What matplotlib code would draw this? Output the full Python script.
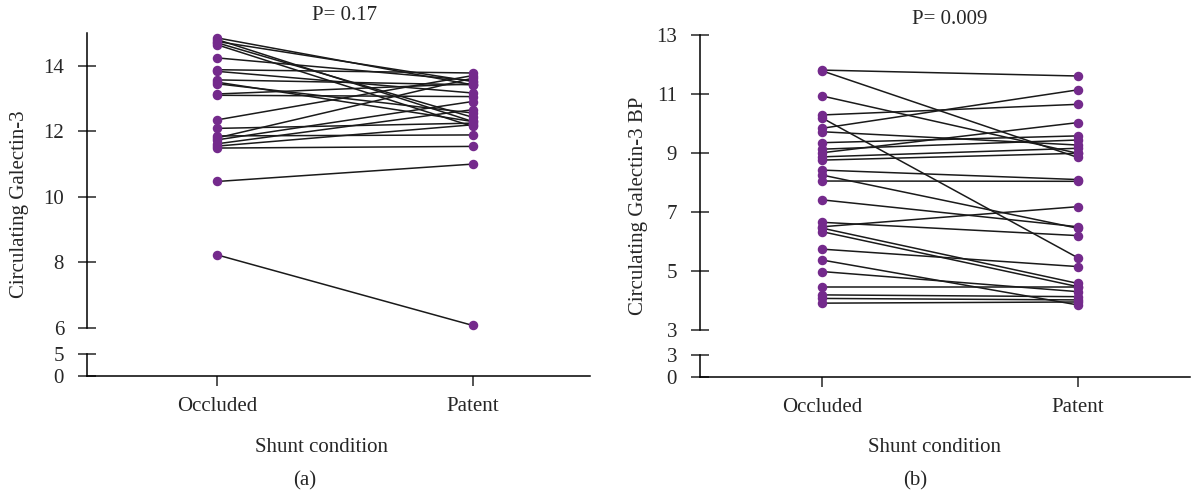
import matplotlib
matplotlib.use("Agg")
import matplotlib.pyplot as plt

plt.rcParams['font.family'] = ['Liberation Serif', 'DejaVu Serif']
plt.rcParams['font.size'] = 15

conditions = ['Occluded', 'Patent']

# panel (a): Circulating Galectin-3, one pair per subject
gal_occluded = [14.85, 14.80, 14.74, 14.70, 14.64, 14.24, 13.88, 13.83, 13.57, 13.50,
                13.45, 13.14, 13.10, 12.35, 12.09, 11.86, 11.80, 11.74, 11.62, 11.55,
                11.49, 10.47, 8.23]
gal_patent = [13.42, 12.30, 13.52, 12.43, 12.15, 13.55, 13.78, 13.17, 13.42, 12.30,
              12.56, 13.45, 13.06, 13.70, 12.25, 11.89, 13.62, 12.91, 12.66, 12.20,
              11.54, 11.00, 6.08]

# panel (b): Circulating Galectin-3 BP
bp_occluded = [11.81, 11.78, 10.93, 10.29, 10.18, 9.84, 9.72, 9.35, 9.13, 9.01,
               8.87, 8.76, 8.42, 8.25, 8.05, 7.41, 6.65, 6.50, 6.45, 6.33,
               5.74, 5.37, 4.98, 4.47, 4.19, 4.07, 3.91]
bp_patent = [11.61, 8.85, 8.99, 10.65, 5.45, 11.14, 9.27, 9.58, 9.44, 10.03,
             9.16, 8.99, 8.10, 6.45, 8.04, 6.50, 6.20, 7.18, 4.58, 4.47,
             5.15, 3.85, 4.30, 4.47, 4.13, 4.02, 3.95]

panels = [
    dict(occ=gal_occluded, pat=gal_patent, ylabel='Circulating Galectin-3',
         title='P= 0.17', tag='(a)', yticks=[6, 8, 10, 12, 14], ylim=(6, 15),
         low_ticks=[0, 5], low_lim=(0, 5),
         top_rect=[87, 33, 590, 328], low_rect=[87, 354, 590, 376],
         xlim=(-0.51, 1.46), xlab_x=322, tag_x=305, title_y=15, ylab_x=20),
    dict(occ=bp_occluded, pat=bp_patent, ylabel='Circulating Galectin-3 BP',
         title='P= 0.009', tag='(b)', yticks=[3, 5, 7, 9, 11, 13], ylim=(3, 13),
         low_ticks=[0, 3], low_lim=(0, 3),
         top_rect=[700, 35, 1190, 330], low_rect=[700, 355, 1190, 377],
         xlim=(-0.48, 1.44), xlab_x=935, tag_x=915, title_y=20, ylab_x=638),
]

W, H = 1201, 493
fig = plt.figure(figsize=(W / 100, H / 100), dpi=100)
purple = '#742a8c'
ink = '#262626'


def rect(r):
    x0, y0, x1, y1 = r
    return [x0 / W, 1 - y1 / H, (x1 - x0) / W, (y1 - y0) / H]


for p in panels:
    ax = fig.add_axes(rect(p['top_rect']))
    low = fig.add_axes(rect(p['low_rect']))

    for a, b in zip(p['occ'], p['pat']):
        ax.plot([0, 1], [a, b], color='#1a1a1a', lw=1.1, zorder=2)
    ax.scatter([0] * len(p['occ']), p['occ'], s=34, color=purple, zorder=3, clip_on=False)
    ax.scatter([1] * len(p['pat']), p['pat'], s=34, color=purple, zorder=3, clip_on=False)

    ax.set_xlim(*p['xlim'])
    ax.set_ylim(*p['ylim'])
    ax.set_yticks(p['yticks'])
    ax.set_xticks([])
    for s in ['top', 'right', 'bottom']:
        ax.spines[s].set_visible(False)
    ax.spines['left'].set_linewidth(1.1)
    ax.tick_params(axis='y', direction='inout', length=13, width=1.1, pad=10, colors=ink)

    low.set_xlim(*p['xlim'])
    low.set_ylim(*p['low_lim'])
    low.set_yticks(p['low_ticks'])
    low.set_xticks([0, 1])
    low.set_xticklabels(conditions)
    for s in ['top', 'right']:
        low.spines[s].set_visible(False)
    low.spines['left'].set_linewidth(1.1)
    low.spines['bottom'].set_linewidth(1.1)
    low.tick_params(axis='y', direction='inout', length=13, width=1.1, pad=10, colors=ink)
    low.tick_params(axis='x', direction='out', length=7, width=1.1, pad=8, colors=ink)

    y0, y1 = p['top_rect'][1], p['low_rect'][3]
    fig.text(p['ylab_x'] / W, 1 - (y0 + y1) / 2 / H, p['ylabel'], rotation=90,
             ha='center', va='center', color=ink)
    mid = (p['top_rect'][0] + p['top_rect'][2]) / 2
    title_x = p['top_rect'][0] + (p['top_rect'][2] - p['top_rect'][0]) * (0.5 - p['xlim'][0]) / (p['xlim'][1] - p['xlim'][0])
    fig.text(title_x / W, 1 - p['title_y'] / H, p['title'], ha='center', va='center', color=ink)
    fig.text(p['xlab_x'] / W, 1 - 447 / H, 'Shunt condition', ha='center', va='center', color=ink)
    fig.text(p['tag_x'] / W, 1 - 481 / H, p['tag'], ha='center', va='center', color=ink)

fig.savefig('out.png', dpi=100)
